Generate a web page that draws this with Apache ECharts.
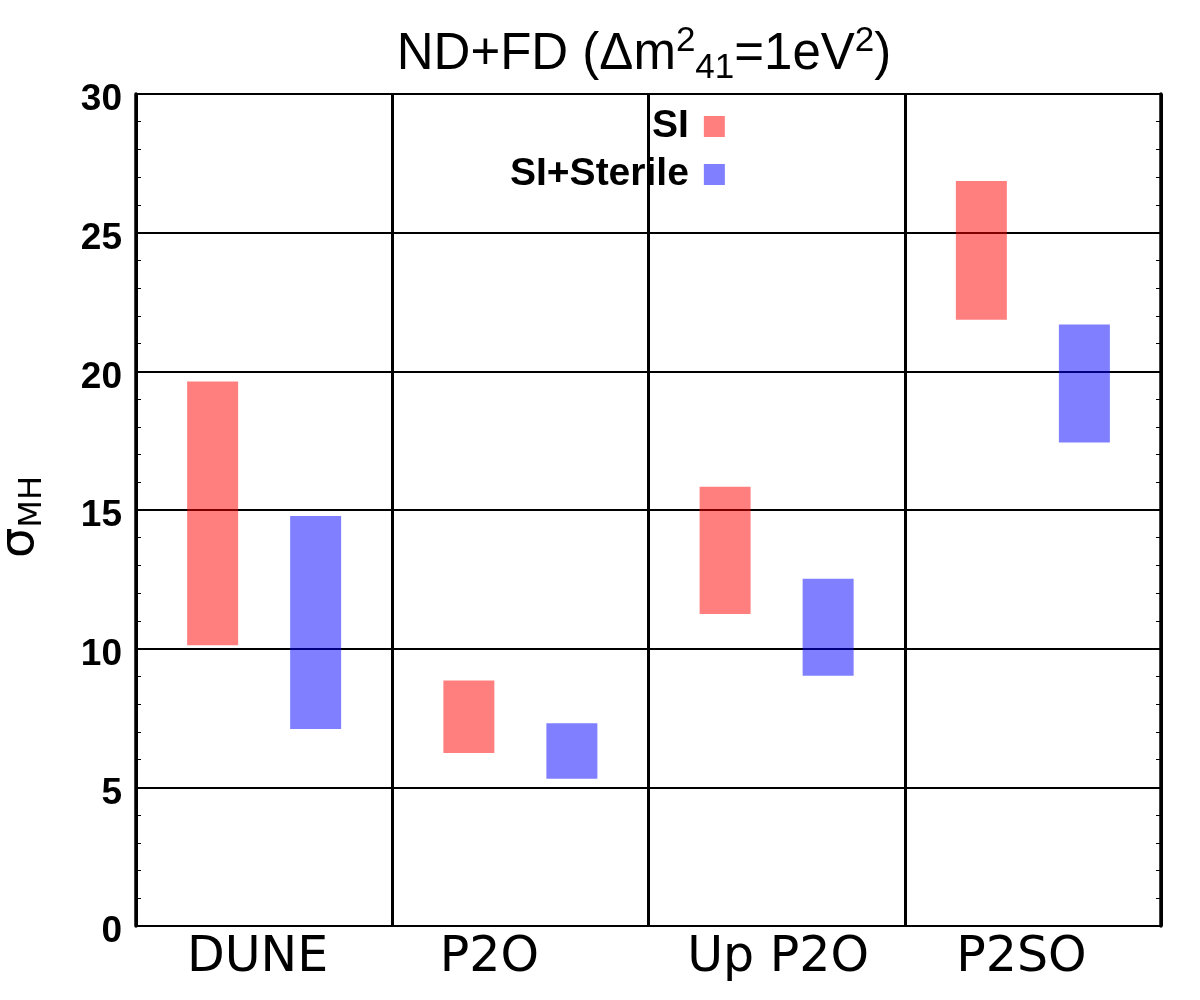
<!DOCTYPE html>
<html>
<head>
<meta charset="utf-8">
<script src="https://cdn.jsdelivr.net/npm/echarts@6/dist/echarts.min.js"></script>
<style>html,body{margin:0;padding:0;background:#fff}#c{width:1200px;height:1000px}</style>
</head>
<body>
<div id="c"></div>
<script>
// ---- data ----
const categories = ['DUNE', 'P2O', 'Up P2O', 'P2SO'];
const siLow  = [10.12, 6.24, 11.25, 21.86];
const siHigh = [19.63, 8.85, 15.84, 26.86];
const stLow  = [7.10, 5.31, 9.02, 17.43];
const stHigh = [14.78, 7.31, 12.52, 21.69];
const yTicks = [0, 5, 10, 15, 20, 25, 30];

// ---- style ----
const RED = 'rgba(255,0,0,0.5)';
const BLUE = 'rgba(0,0,255,0.5)';
const labelShift = [[0, 13, 0, 0], [0, 62, 0, 0], [0, 0, 0, 3], [0, 23, 0, 0]];
const xRich = {};
labelShift.forEach((p, i) => {
  xRich['c' + i] = { fontFamily: 'DejaVu Sans', fontSize: 49, color: '#000', padding: p };
});

const chart = echarts.init(document.getElementById('c'), null, { renderer: 'canvas' });

const yCommon = {
  type: 'value', min: yTicks[0], max: yTicks[yTicks.length - 1], interval: 5,
  axisLine: { show: true, lineStyle: { color: '#000', width: 3.5 } },
  axisTick: { show: true, inside: true, length: 8, lineStyle: { color: '#000', width: 1.5 } },
  minorTick: { show: true, splitNumber: 5, length: 5, lineStyle: { color: '#000', width: 1 } }
};

chart.setOption({
  animation: false,
  backgroundColor: '#fff',
  title: {
    text: '{m|ND+FD (\u0394m}{p|2}{b|41}{m|=1eV}{p|2}{m|)}',
    left: 644, top: 24, textAlign: 'center', padding: 0,
    textStyle: {
      fontWeight: 'normal',
      rich: {
        m: { fontFamily: 'Liberation Sans', fontWeight: 'normal', fontSize: 51, color: '#000', lineHeight: 62 },
        p: { fontFamily: 'Liberation Sans', fontWeight: 'normal', fontSize: 35, color: '#000', lineHeight: 32, verticalAlign: 'top' },
        b: { fontFamily: 'Liberation Sans', fontWeight: 'normal', fontSize: 35, color: '#000', lineHeight: 28, verticalAlign: 'bottom' }
      }
    }
  },
  legend: {
    orient: 'vertical', align: 'right', left: 510, top: 107, padding: 0,
    itemWidth: 21, itemHeight: 21, itemGap: 9, icon: 'rect', selectedMode: false,
    data: ['SI', 'SI+Sterile'],
    textStyle: { fontFamily: 'Liberation Sans', fontWeight: 'bold', fontSize: 39, color: '#000', lineHeight: 36, padding: [0, 10, 0, 0] }
  },
  grid: { left: 136, right: 39, top: 94, bottom: 74, containLabel: false, outerBoundsMode: 'none' },
  xAxis: {
    type: 'category', data: categories, boundaryGap: true,
    axisLine: { show: true, lineStyle: { color: '#000', width: 2 } },
    axisTick: { show: false },
    splitLine: { show: true, interval: 0, lineStyle: { color: '#000', width: 3 } },
    axisLabel: {
      interval: 0, margin: 8,
      formatter: (v, i) => '{c' + i + '|' + v + '}',
      rich: xRich
    }
  },
  yAxis: [
    Object.assign({}, yCommon, {
      position: 'left',
      name: '{s|\u03c3}{m|MH}', nameLocation: 'middle', nameRotate: 90, nameGap: 87,
      nameTextStyle: {
        padding: [0, 14, 0, 0],
        rich: {
          s: { fontFamily: 'DejaVu Sans', fontSize: 48, color: '#000', lineHeight: 56 },
          m: { fontFamily: 'DejaVu Sans', fontSize: 32, color: '#000', lineHeight: 40, verticalAlign: 'bottom' }
        }
      },
      splitLine: { show: true, lineStyle: { color: '#000', width: 2 } },
      axisLabel: {
        margin: 14,
        formatter: v => '{a|' + v + '}',
        rich: {
          a: { fontFamily: 'Liberation Sans', fontWeight: 'bold', fontSize: 37, color: '#000', padding: [12, 0, 0, 0] }
        }
      }
    }),
    Object.assign({}, yCommon, {
      position: 'right',
      splitLine: { show: false },
      axisLabel: { show: false }
    })
  ],
  series: [
    { name: 'siBase', type: 'bar', stack: 'si', yAxisIndex: 0, barWidth: 51, barGap: '102%',
      itemStyle: { color: 'transparent' }, silent: true, data: siLow },
    { name: 'SI', type: 'bar', stack: 'si', yAxisIndex: 0, barWidth: 51, barGap: '102%',
      itemStyle: { color: RED }, data: siHigh.map((h, i) => +(h - siLow[i]).toFixed(3)) },
    { name: 'stBase', type: 'bar', stack: 'st', yAxisIndex: 0, barWidth: 51, barGap: '102%',
      itemStyle: { color: 'transparent' }, silent: true, data: stLow },
    { name: 'SI+Sterile', type: 'bar', stack: 'st', yAxisIndex: 0, barWidth: 51, barGap: '102%',
      itemStyle: { color: BLUE }, data: stHigh.map((h, i) => +(h - stLow[i]).toFixed(3)) }
  ]
});
</script>
</body>
</html>
